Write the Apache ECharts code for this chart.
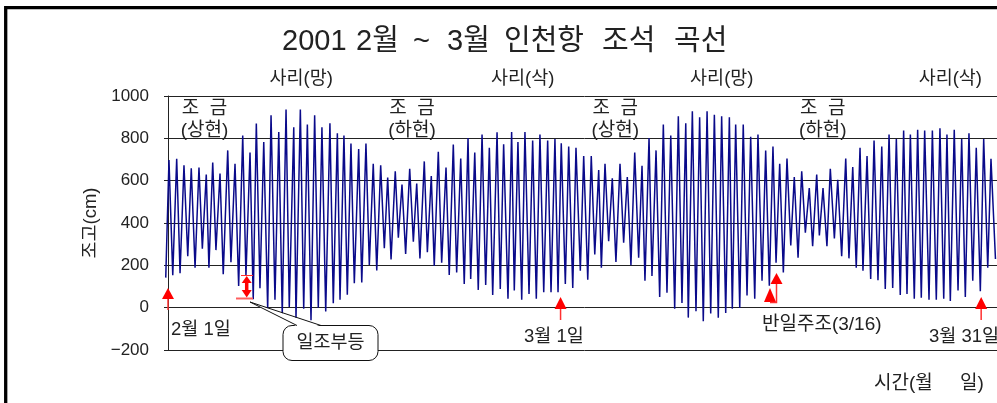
<!DOCTYPE html>
<html><head><meta charset="utf-8">
<script src="https://cdn.jsdelivr.net/npm/echarts@6/dist/echarts.min.js"></script>
<style>html,body{margin:0;padding:0;background:#fff;overflow:hidden;width:997px;height:403px}#c{width:1010px;height:403px}</style>
</head><body><div id="c"></div>
<script>
// time in days from 2001-02-01 00:00, tide level in cm
const lowTimes = [-0.16,0.34,0.86,1.41,1.93,2.45,2.92,3.42,3.94,4.49,5.04,5.56,6.08,6.56,7.11,7.63,8.15,8.65,9.13,9.68,10.20,10.72,11.25,11.79,12.27,12.79,13.29,13.82,14.36,14.89,15.43,15.91,16.43,16.95,17.50,17.97,18.50,18.99,19.52,20.06,20.59,21.13,21.59,22.13,22.66,23.16,23.70,24.25,24.70,25.23,25.75,26.27,26.80,27.32,27.82,28.34,28.87,29.41,29.94,30.44,30.91,31.43,31.95,32.50,33.02,33.57,34.02,34.52,35.07,35.59,36.14,36.66,37.11,37.66,38.18,38.71,39.25,39.78,40.25,40.78,41.30,41.85,42.37,42.89,43.37,43.89,44.42,44.94,45.46,45.98,46.46,47.00,47.53,48.05,48.57,49.09,49.57,50.12,50.64,51.16,51.69,52.23,52.71,53.23,53.73,54.28,54.80,55.33,55.80,56.35,56.87,57.40,57.94,58.47,59.02];
const lowLevels = [142,153,163,243,189,278,189,272,158,215,102,150,40,92,-5,37,-33,3,-50,-5,-59,0,-18,21,37,61,115,119,202,176,281,228,330,254,312,232,262,197,212,155,166,112,135,84,107,60,88,42,81,37,65,42,73,73,73,112,93,174,132,251,189,314,216,307,200,236,127,150,50,70,-5,22,-47,-17,-64,-28,-47,-25,-5,-2,57,42,127,104,212,166,294,236,354,290,341,290,327,243,233,189,174,135,130,88,93,60,65,42,47,37,37,42,31,81,50,127,78,189,230];
const highTimes = [0.07,0.62,1.14,1.66,2.21,2.73,3.19,3.71,4.26,4.78,5.33,5.85,6.30,6.83,7.35,7.90,8.42,8.97,9.44,9.94,10.46,10.98,11.55,12.08,12.55,13.05,13.60,14.12,14.64,15.17,15.67,16.21,16.69,17.24,17.74,18.28,18.78,19.28,19.83,20.35,20.88,21.40,21.88,22.40,22.92,23.47,23.94,24.51,24.96,25.46,26.01,26.53,27.08,27.60,28.05,28.58,29.10,29.65,30.19,30.72,31.17,31.69,32.24,32.76,33.29,33.81,34.31,34.81,35.33,35.86,36.40,36.93,37.40,37.92,38.45,38.97,39.49,40.04,40.49,41.03,41.56,42.08,42.63,43.15,43.63,44.15,44.67,45.20,45.74,46.27,46.72,47.24,47.77,48.34,48.84,49.36,49.86,50.36,50.91,51.43,51.95,52.47,52.95,53.47,53.97,54.52,55.06,55.56,56.08,56.61,57.13,57.65,58.18,58.70];
const highLevels = [697,703,673,658,662,629,686,634,743,680,813,733,870,783,909,830,936,852,936,865,909,852,871,824,813,775,749,775,680,673,615,644,582,656,587,691,622,736,662,771,705,802,733,818,755,829,772,830,783,830,790,818,790,797,777,761,755,716,716,650,680,611,680,617,733,670,802,743,865,813,904,871,928,900,928,911,904,900,865,865,807,818,743,761,680,705,617,644,565,629,565,656,604,705,664,755,716,790,761,818,797,837,818,841,837,837,848,818,841,797,824,755,797,703];
const yTicks = [-200,0,200,400,600,800,1000];
const springLabels = [[9.5,'사리(망)'],[25.3,'사리(삭)'],[39.5,'사리(망)'],[55.8,'사리(삭)']];
const neapLabels = [[2.6,'(상현)'],[17.4,'(하현)'],[31.9,'(상현)'],[46.7,'(하현)']];
const dayMarks = [[0,'2월 1일'],[28,'3월 1일'],[58,'3월 31일']];
const titleWords = ['2001','2월','~','3월','인천항','조석','곡선'];

// layout (pixels), kept separate from data
const titleX = [282,356,413,447,504,602,674];
const dayLabelPos = [[171,330],[524,337],[929,337]];
const FONT = '"Liberation Sans","Noto Sans CJK KR",sans-serif';

const pts = [];
lowTimes.forEach((t,i)=>pts.push([t,lowLevels[i]]));
highTimes.forEach((t,i)=>pts.push([t,highLevels[i]]));
pts.sort((a,b)=>a[0]-b[0]);

const chart = echarts.init(document.getElementById('c'));
chart.setOption({
  animation:false,
  backgroundColor:'#fff',
  grid:{left:164,top:96,width:841,height:254},
  xAxis:{type:'value',min:-0.285,max:59.7,axisLine:{show:false},axisTick:{show:false},axisLabel:{show:false},splitLine:{show:false}},
  yAxis:{type:'value',min:yTicks[0],max:yTicks[yTicks.length-1],interval:200,
    name:'조고(cm)',nameLocation:'middle',nameGap:62,nameRotate:90,
    nameTextStyle:{fontFamily:FONT,fontSize:18.5,color:'#222'},
    axisLine:{show:true,lineStyle:{color:'#222',width:1}},axisTick:{show:false},
    axisLabel:{margin:15,fontFamily:FONT,fontSize:17,color:'#222',formatter:v=>v<0?'−'+Math.abs(v):String(v)},
    splitLine:{show:true,lineStyle:{color:'#222',width:1}}},
  series:[{type:'line',data:pts,symbol:'none',lineStyle:{color:'#0a0a8a',width:1.5},z:3}]
});

function px(t,v){return chart.convertToPixel({gridIndex:0},[t,v]);}
const g = [];
const txt=(x,y,s,size,align,z)=>g.push({type:'text',x:x,y:y,z:z||10,style:{text:s,fontFamily:FONT,fontSize:size||19,fill:'#222',align:align||'center',verticalAlign:'middle'}});
// frame
g.push({type:'rect',shape:{x:5.7,y:7.7,width:1200,height:600},style:{fill:null,stroke:'#000',lineWidth:3.3},z:20});
titleWords.forEach((w,i)=>txt(titleX[i],42,w,29,'left'));
springLabels.forEach(([t,s])=>{const p=px(t,0);txt(p[0],79,s,18.5);});
neapLabels.forEach(([t,s])=>{const p=px(t,0);txt(p[0],109,'조  금',19);txt(p[0],131,s,19);});
// date arrows
function upArrow(x,yTip,yBase,yEnd){
  g.push({type:'polygon',z:12,shape:{points:[[x,yTip],[x-6,yBase],[x+6,yBase]]},style:{fill:'#ff0000'}});
  g.push({type:'line',z:12,shape:{x1:x,y1:yBase,x2:x,y2:yEnd},style:{stroke:'#ff3030',lineWidth:1.5}});
}
dayMarks.forEach(([t,s],i)=>{
  const p=px(t,0);
  if(i===0) upArrow(p[0],288,299,310); else upArrow(p[0],297,309,320);
  txt(dayLabelPos[i][0],dayLabelPos[i][1],s,18.5,'left');
});
// 반일주조 arrows
g.push({type:'polygon',z:12,shape:{points:[[770,288],[764,302],[776,302]]},style:{fill:'#ff0000'}});
g.push({type:'polygon',z:12,shape:{points:[[776.5,273],[770.5,284],[782.5,284]]},style:{fill:'#ff0000'}});
g.push({type:'polyline',z:12,shape:{points:[[776.5,284],[776.5,302.5],[770,302.5]]},style:{stroke:'#ff3030',lineWidth:1.5,fill:null}});
txt(762,325,'반일주조(3/16)',19,'left');
// 일조부등 double arrow
const ax=246.7;
g.push({type:'line',z:12,shape:{x1:241,y1:275.5,x2:253,y2:275.5},style:{stroke:'#ff3030',lineWidth:1}});
g.push({type:'line',z:12,shape:{x1:236,y1:298.5,x2:253,y2:298.5},style:{stroke:'#ff6060',lineWidth:2}});
g.push({type:'line',z:12,shape:{x1:ax,y1:281,x2:ax,y2:292},style:{stroke:'#ff0000',lineWidth:3.5}});
g.push({type:'polygon',z:12,shape:{points:[[ax,276],[ax-5,283],[ax+5,283]]},style:{fill:'#ff0000'}});
g.push({type:'polygon',z:12,shape:{points:[[ax,297.5],[ax-5,290],[ax+5,290]]},style:{fill:'#ff0000'}});
// callout
g.push({type:'rect',z:13,shape:{x:283,y:325.5,width:95,height:35,r:9},style:{fill:'#fff',stroke:'#111',lineWidth:1}});
g.push({type:'polygon',z:14,shape:{points:[[297,326.5],[250,302],[321,326.5]]},style:{fill:'#fff',stroke:null}});
g.push({type:'polyline',z:14,shape:{points:[[297,325.5],[250,302],[321,325.5]]},style:{fill:null,stroke:'#111',lineWidth:1}});
txt(330.5,343,'일조부등',18.5,'center',16);
txt(874,384,'시간(월',19,'left');
txt(960,384,'일)',19,'left');
chart.setOption({graphic:g});
</script></body></html>
